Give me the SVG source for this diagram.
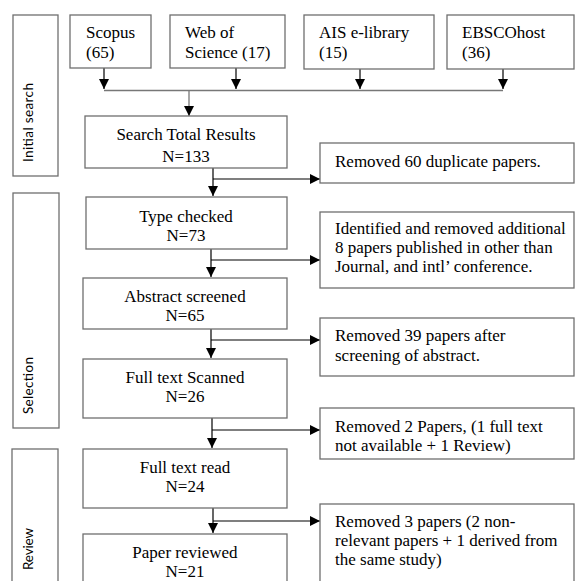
<svg xmlns="http://www.w3.org/2000/svg" width="576" height="581" viewBox="0 0 576 581">
<defs>
<marker id="ah" markerUnits="userSpaceOnUse" markerWidth="10" markerHeight="10" refX="10" refY="5" orient="auto">
<path d="M0,0 L10,5 L0,10 z" fill="#000"/>
</marker>
<style>
.box{fill:#fff;stroke:#6f6f6f;stroke-width:1.3}
.t{font-family:"Liberation Serif","Times New Roman",serif;font-size:17px;fill:#000}
.c{text-anchor:middle}
.side{font-family:Lato,"Open Sans",sans-serif;font-size:13.5px;fill:#000;text-anchor:middle}
.ln{stroke:#000;stroke-width:1.2;fill:none}
.g{stroke:#777;stroke-width:1.3;fill:none}
</style>
</defs>
<rect width="576" height="581" fill="#fff"/>

<g id="side-initial"><rect class="box" x="13" y="15" width="45" height="161"/><text class="side" transform="translate(33,122.5) rotate(-90)" textLength="79">Initial search</text></g>
<g id="side-selection"><rect class="box" x="13" y="193" width="46" height="235"/><text class="side" transform="translate(33,385.5) rotate(-90)" textLength="57">Selection</text></g>
<g id="side-review"><rect class="box" x="12" y="449" width="46" height="140"/><text class="side" transform="translate(33,549) rotate(-90)" textLength="42">Review</text></g>

<g id="connectors">
<line class="g" x1="104" y1="90.5" x2="503" y2="90.5"/>
<line class="ln" x1="104" y1="68" x2="104" y2="89" marker-end="url(#ah)"/>
<line class="ln" x1="236" y1="68" x2="236" y2="89" marker-end="url(#ah)"/>
<line class="ln" x1="360" y1="69" x2="360" y2="89" marker-end="url(#ah)"/>
<line class="ln" x1="503" y1="69" x2="503" y2="89" marker-end="url(#ah)"/>
<line class="g" x1="189" y1="90.5" x2="189" y2="116" marker-end="url(#ah)"/>

<line class="ln" x1="213" y1="168" x2="213" y2="196" marker-end="url(#ah)"/>
<line class="ln" x1="213" y1="179" x2="320" y2="179" marker-end="url(#ah)"/>

<line class="ln" x1="211" y1="249" x2="211" y2="277" marker-end="url(#ah)"/>
<line class="ln" x1="211" y1="260" x2="320" y2="260" marker-end="url(#ah)"/>

<line class="ln" x1="211" y1="329" x2="211" y2="358" marker-end="url(#ah)"/>
<line class="ln" x1="211" y1="340" x2="320" y2="340" marker-end="url(#ah)"/>

<line class="ln" x1="212" y1="418" x2="212" y2="448" marker-end="url(#ah)"/>
<line class="ln" x1="212" y1="430" x2="320" y2="430" marker-end="url(#ah)"/>

<line class="ln" x1="213" y1="508" x2="213" y2="533" marker-end="url(#ah)"/>
<line class="ln" x1="213" y1="521" x2="320" y2="521" marker-end="url(#ah)"/>
</g>

<g id="scopus"><rect class="box" x="70" y="15" width="81" height="53"/><text class="t" x="86" y="38">Scopus</text><text class="t" x="86" y="58">(65)</text></g>
<g id="wos"><rect class="box" x="170" y="15" width="115" height="53"/><text class="t" x="185" y="38">Web of</text><text class="t" x="185" y="58">Science (17)</text></g>
<g id="ais"><rect class="box" x="304" y="15" width="130" height="54"/><text class="t" x="319" y="38">AIS e-library</text><text class="t" x="319" y="58">(15)</text></g>
<g id="ebsco"><rect class="box" x="447" y="15" width="127" height="54"/><text class="t" x="462" y="38">EBSCOhost</text><text class="t" x="462" y="58">(36)</text></g>

<g id="total"><rect class="box" x="85" y="116" width="202" height="52"/><text class="t c" x="186" y="140">Search Total Results</text><text class="t c" x="186" y="162">N=133</text></g>
<g id="dup"><rect class="box" x="320" y="143" width="254" height="40"/><text class="t" x="335" y="167">Removed 60 duplicate papers.</text></g>

<g id="type"><rect class="box" x="86" y="197" width="201" height="52"/><text class="t c" x="186" y="222">Type checked</text><text class="t c" x="186" y="241">N=73</text></g>
<g id="ident"><rect class="box" x="320" y="212" width="254" height="76"/><text class="t" x="335" y="234">Identified and removed additional</text><text class="t" x="335" y="253">8 papers published in other than</text><text class="t" x="335" y="272">Journal, and intl’ conference.</text></g>

<g id="abstract"><rect class="box" x="83" y="278" width="204" height="51"/><text class="t c" x="185" y="302">Abstract screened</text><text class="t c" x="185" y="321">N=65</text></g>
<g id="rem39"><rect class="box" x="320" y="318" width="254" height="58"/><text class="t" x="335" y="341">Removed 39 papers after</text><text class="t" x="335" y="361">screening of abstract.</text></g>

<g id="scanned"><rect class="box" x="83" y="359" width="204" height="59"/><text class="t c" x="185" y="383">Full text Scanned</text><text class="t c" x="185" y="402">N=26</text></g>
<g id="rem2"><rect class="box" x="320" y="408" width="254" height="51"/><text class="t" x="335" y="432">Removed 2 Papers, (1 full text</text><text class="t" x="335" y="451">not available + 1 Review)</text></g>

<g id="read"><rect class="box" x="83" y="449" width="204" height="59"/><text class="t c" x="185" y="473">Full text read</text><text class="t c" x="185" y="492">N=24</text></g>
<g id="rem3"><rect class="box" x="320" y="504" width="254" height="90"/><text class="t" x="335" y="527">Removed 3 papers (2 non-</text><text class="t" x="335" y="546">relevant papers + 1 derived from</text><text class="t" x="335" y="565">the same study)</text></g>

<g id="reviewed"><rect class="box" x="83" y="534" width="204" height="60"/><text class="t c" x="185" y="558">Paper reviewed</text><text class="t c" x="185" y="577">N=21</text></g>
</svg>
